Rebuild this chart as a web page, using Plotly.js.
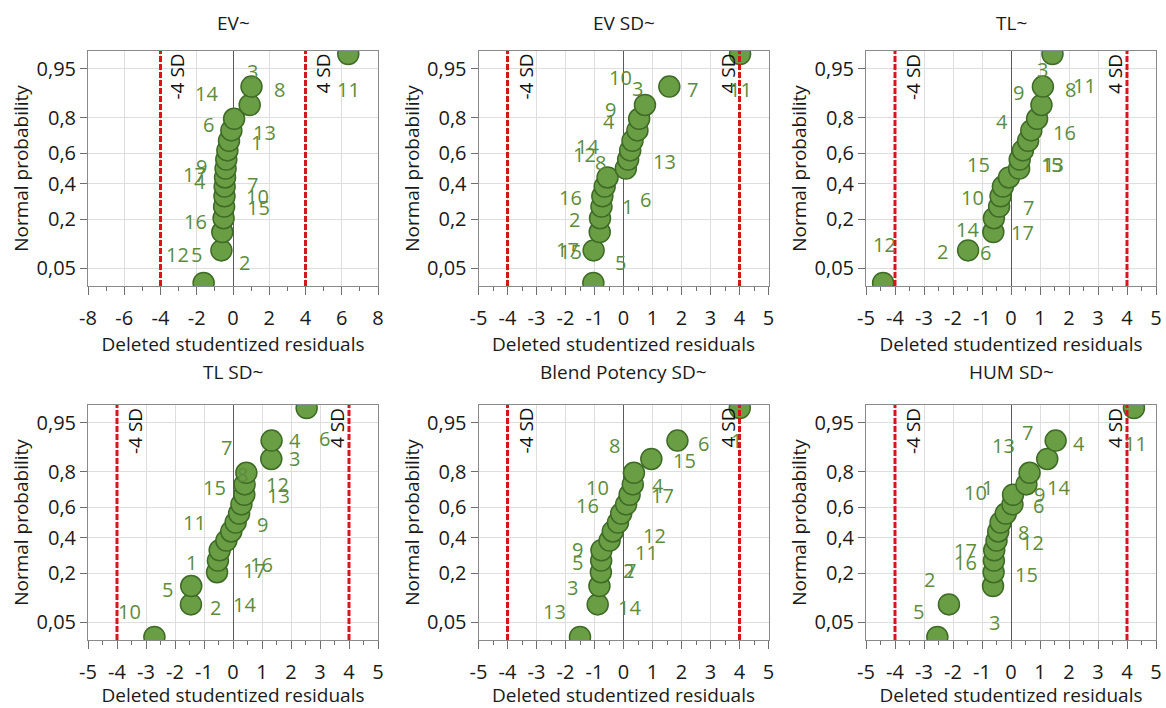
<!DOCTYPE html>
<html><head><meta charset="utf-8">
<script src="https://cdn.plot.ly/plotly-3.0.1.min.js"></script>
<style>html,body{margin:0;padding:0;background:#fff}#chart{width:1166px;height:708px}</style>
</head><body><div id="chart"></div>
<script>
// ---------------- DATA ----------------
// Normal-probability plotting positions for ranks 1..17 (lowest residual first)
const plotPositions = [0.0294,0.0882,0.1471,0.2059,0.2647,0.3235,0.3824,0.4412,0.5,0.5588,0.6176,0.6765,0.7353,0.7941,0.8529,0.9118,0.9706];
const probTicks = [0.05,0.2,0.4,0.6,0.8,0.95];
const probTickText = ['0,05','0,2','0,4','0,6','0,8','0,95'];
const panelTitles = ['EV~','EV SD~','TL~','TL SD~','Blend Potency SD~','HUM SD~'];
const xAxisTitle = 'Deleted studentized residuals';
const yAxisTitle = 'Normal probability';
const sdLimits = [-4, 4];
const sdLabels = ['-4 SD', '4 SD'];
const wideTicks = [-8,-6,-4,-2,0,2,4,6,8];
const narrowTicks = [-5,-4,-3,-2,-1,0,1,2,3,4,5];

// Run numbers and deleted studentized residuals, in rank order
const evRuns   = ['2','5','12','16','15','10','7','4','17','9','1','13','6','14','3','8','11'];
const evResid  = [-1.62,-0.64,-0.59,-0.52,-0.49,-0.47,-0.46,-0.44,-0.41,-0.37,-0.31,-0.22,-0.09,0.06,0.92,1.02,6.36];

const evsdRuns  = ['15','17','5','2','6','16','1','8','12','13','14','4','9','10','3','7','11'];
const evsdResid = [-1.04,-1.03,-0.82,-0.81,-0.76,-0.73,-0.65,-0.55,0.08,0.16,0.23,0.31,0.48,0.54,0.74,1.58,4.02];

const tlRuns  = ['12','2','6','14','17','7','10','15','5','1','13','16','4','9','11','8','3'];
const tlResid = [-4.41,-1.48,-0.61,-0.59,-0.41,-0.36,-0.28,-0.07,0.28,0.30,0.41,0.59,0.70,0.90,1.05,1.10,1.43];

const tlsdRuns  = ['10','2','5','14','17','1','16','9','11','13','15','12','8','7','3','4','6'];
const tlsdResid = [-2.71,-1.45,-1.44,-0.55,-0.52,-0.46,-0.23,-0.06,0.09,0.21,0.29,0.39,0.40,0.46,1.32,1.33,2.54];

const bpsdRuns  = ['13','14','3','7','5','2','9','11','12','16','10','17','4','8','15','6','1'];
const bpsdResid = [-1.50,-0.89,-0.83,-0.78,-0.77,-0.76,-0.48,-0.37,-0.19,-0.08,0.09,0.21,0.32,0.36,0.96,1.86,4.01];

const humsdRuns  = ['5','2','3','15','16','17','12','8','6','10','1','9','14','13','7','4','11'];
const humsdResid = [-2.54,-2.14,-0.62,-0.60,-0.59,-0.58,-0.50,-0.44,-0.36,-0.18,0.05,0.07,0.53,0.64,1.25,1.54,4.24];

// ---------------- LABEL PLACEMENT (pixel offsets from each point; +dy = down) ----------------
const labelOffsets = [
  {dx:[41,-25,-44.4,-27.6,34.3,33.3,27.7,-25,-30.7,-25,29,35.7,-22.4,-27.6,3.3,27.6,0],
   dy:[-20.3,4,22.4,3,1.3,0,-2,3.8,6.1,6.8,-8,-7.8,-5.7,-25,-33.3,3.3,35.7]},
  {dx:[-22.7,-26,20.7,-26,44.3,-31.7,22.7,-6.7,-41.7,36,-42.6,-23.4,-26.7,-18.3,-7.3,23.3,0],
   dy:[-31.9,-1,30.7,1.3,-7,1.6,19.7,-14.6,-13.9,1.8,-4,-19.4,-20.7,-41.4,-16.7,3.3,35.7]},
  {dx:[1,-25.6,-8,-26.3,23.4,28.3,-30.6,-30,37.7,29,29.7,36,-29,-18.6,43.3,27.7,-10],
   dy:[-38.6,0.7,20.7,11.3,26.3,11.6,11.3,-12.9,-3.9,5.1,14.3,-7.8,-9,-26.4,-19,3.3,15.7]},
  {dx:[-25,25,-23.4,27.7,36.7,-28.3,35,31.6,-41,39,-26.7,33.3,-2.3,-20,23.3,23.3,18.3],
   dy:[-25.9,3.3,3.2,32,10.3,12.3,23.5,-7.3,0,-17.8,-16.9,-10.7,-10.4,-25.4,0,0,30.8]},
  {dx:[-25.7,31.6,-26.6,30,-23.3,26.7,-31.6,33.3,36.6,-33.3,-28.3,33.4,25,-19.4,33.3,25.7,-3.3],
   dy:[-25.9,3.3,1.6,-2,2,20.6,8.5,21.1,13.3,-7.8,-16.9,1,1.3,-27.1,1.7,3.3,32.5]},
  {dx:[-18.4,-19.3,1,32.4,-28.3,-28.3,36,25.6,38.3,-30,-25,26,32.6,-25.7,-20,23.3,1.7],
   dy:[-25.9,-25.1,36.6,2,2,0.6,1.9,1.1,-16.7,-21.1,-16.9,-0.7,3,-27.1,-26.6,3.3,35.8]}
];

const panels = [
  {runs: evRuns, resid: evResid, xr: [-8, 8], ticks: wideTicks, dt: 2},
  {runs: evsdRuns, resid: evsdResid, xr: [-5, 5], ticks: narrowTicks, dt: 1},
  {runs: tlRuns, resid: tlResid, xr: [-5, 5], ticks: narrowTicks, dt: 1},
  {runs: tlsdRuns, resid: tlsdResid, xr: [-5, 5], ticks: narrowTicks, dt: 1},
  {runs: bpsdRuns, resid: bpsdResid, xr: [-5, 5], ticks: narrowTicks, dt: 1},
  {runs: humsdRuns, resid: humsdResid, xr: [-5, 5], ticks: narrowTicks, dt: 1}
];

// inverse normal CDF (probit scale for the probability axis)
function probit(p) {
  const a=[-3.969683028665376e+01,2.209460984245205e+02,-2.759285104469687e+02,1.383577518672690e+02,-3.066479806614716e+01,2.506628277459239e+00];
  const b=[-5.447609879822406e+01,1.615858368580409e+02,-1.556989798598866e+02,6.680131188771972e+01,-1.328068155288572e+01];
  const c=[-7.784894002430293e-03,-3.223964580411365e-01,-2.400758277161838e+00,-2.549732539343734e+00,4.374664141464968e+00,2.938163982698783e+00];
  const d=[7.784695709041462e-03,3.224671290700398e-01,2.445134137142996e+00,3.754408661907416e+00];
  const pl=0.02425, ph=1-pl; let q, r;
  if (p < pl) { q=Math.sqrt(-2*Math.log(p)); return (((((c[0]*q+c[1])*q+c[2])*q+c[3])*q+c[4])*q+c[5])/((((d[0]*q+d[1])*q+d[2])*q+d[3])*q+1); }
  if (p <= ph) { q=p-0.5; r=q*q; return (((((a[0]*r+a[1])*r+a[2])*r+a[3])*r+a[4])*r+a[5])*q/(((((b[0]*r+b[1])*r+b[2])*r+b[3])*r+b[4])*r+1); }
  q=Math.sqrt(-2*Math.log(1-p)); return -(((((c[0]*q+c[1])*q+c[2])*q+c[3])*q+c[4])*q+c[5])/((((d[0]*q+d[1])*q+d[2])*q+d[3])*q+1);
}

// ---------------- LAYOUT ----------------
const W = 1166, H = 708;
const FONT = 'Open Sans, Noto Sans, sans-serif';
const rowsPx = [{top: 51, bottom: 286}, {top: 405, bottom: 640}];
const colsPx = [{l: 88, r: 378}, {l: 478.5, r: 768.5}, {l: 866, r: 1156}];
const titleYPx = [22.7, 371.7];
const green = '#6a9e45', greenLine = '#3e6b25', labelGreen = '#5e8c3d';

const data = [];
const layout = {
  width: W, height: H, margin: {l: 0, r: 0, t: 0, b: 0},
  paper_bgcolor: '#ffffff', plot_bgcolor: '#ffffff',
  showlegend: false, font: {family: FONT, color: '#1a1a1a'},
  shapes: [], annotations: []
};

panels.forEach((pn, k) => {
  const row = Math.floor(k / 3), col = k % 3;
  const xa = k === 0 ? 'x' : 'x' + (k + 1), ya = k === 0 ? 'y' : 'y' + (k + 1);
  const xKey = k === 0 ? 'xaxis' : 'xaxis' + (k + 1), yKey = k === 0 ? 'yaxis' : 'yaxis' + (k + 1);
  const yvals = plotPositions.map(probit);

  data.push({
    type: 'scatter', mode: 'markers', x: pn.resid, y: yvals, xaxis: xa, yaxis: ya,
    text: pn.runs, hoverinfo: 'text+x',
    marker: {size: 21, color: green, line: {color: greenLine, width: 1.5}},
    cliponaxis: true
  });

  layout[xKey] = {
    domain: [colsPx[col].l / W, colsPx[col].r / W], anchor: ya,
    range: pn.xr, tickmode: 'array', tickvals: pn.ticks, ticktext: pn.ticks.map(String),
    ticks: 'outside', ticklen: 8, tickcolor: '#6e6e6e', tickwidth: 1,
    minor: {tickmode: 'linear', tick0: 0, dtick: pn.dt / 2, ticks: 'outside', ticklen: 4, tickcolor: '#6e6e6e', showgrid: false},
    showline: true, linecolor: '#8a8a8a', linewidth: 1, mirror: true,
    showgrid: true, gridcolor: '#dedede', gridwidth: 1,
    zeroline: true, zerolinecolor: '#5a5a5a', zerolinewidth: 1,
    tickfont: {family: FONT, size: 20, color: '#1a1a1a'},
    ticklabelstandoff: 6,
    title: {text: xAxisTitle, font: {family: FONT, size: 19, color: '#1a1a1a'}, standoff: 2},
    automargin: false, fixedrange: true
  };
  layout[yKey] = {
    domain: [1 - rowsPx[row].bottom / H, 1 - rowsPx[row].top / H], anchor: xa,
    range: [-1.94, 1.94], tickmode: 'array',
    tickvals: probTicks.map(probit), ticktext: probTickText,
    ticks: 'outside', ticklen: 7, tickcolor: '#6e6e6e', tickwidth: 1,
    showline: true, linecolor: '#8a8a8a', linewidth: 1, mirror: true,
    showgrid: true, gridcolor: '#dedede', gridwidth: 1, zeroline: false,
    tickfont: {family: FONT, size: 20, color: '#1a1a1a'},
    title: {text: yAxisTitle, font: {family: FONT, size: 19, color: '#1a1a1a'}, standoff: 2},
    automargin: false, fixedrange: true
  };

  // ±4 SD reference lines
  sdLimits.forEach((v, j) => {
    layout.shapes.push({
      type: 'line', xref: xa, yref: ya + ' domain', x0: v, x1: v, y0: 0, y1: 1,
      line: {color: '#d8141c', width: 3, dash: '6px,2px'}, layer: 'above'
    });
    const shift = (k === 0) ? (j === 0 ? 16 : 17) : (j === 0 ? 18 : -12);
    layout.annotations.push({
      xref: xa, yref: ya + ' domain', x: v, y: 1, xshift: shift, yshift: -1,
      xanchor: 'center', yanchor: 'top', textangle: -90, showarrow: false,
      text: sdLabels[j], font: {family: FONT, size: 19, color: '#111'}
    });
  });

  // panel title
  layout.annotations.push({
    xref: xa + ' domain', yref: 'paper', x: 0.5, y: 1 - titleYPx[row] / H,
    xanchor: 'center', yanchor: 'middle', showarrow: false,
    text: panelTitles[k], font: {family: FONT, size: 19, color: '#1a1a1a'}
  });

  // run-number labels beside points
  pn.runs.forEach((r, i) => {
    layout.annotations.push({
      xref: xa, yref: ya, x: pn.resid[i], y: yvals[i],
      xshift: labelOffsets[k].dx[i], yshift: -labelOffsets[k].dy[i],
      xanchor: 'center', yanchor: 'middle', showarrow: false,
      text: r, font: {family: FONT, size: 20, color: labelGreen}
    });
  });
});

Plotly.newPlot('chart', data, layout, {displayModeBar: false, staticPlot: true});
</script>
</body></html>
